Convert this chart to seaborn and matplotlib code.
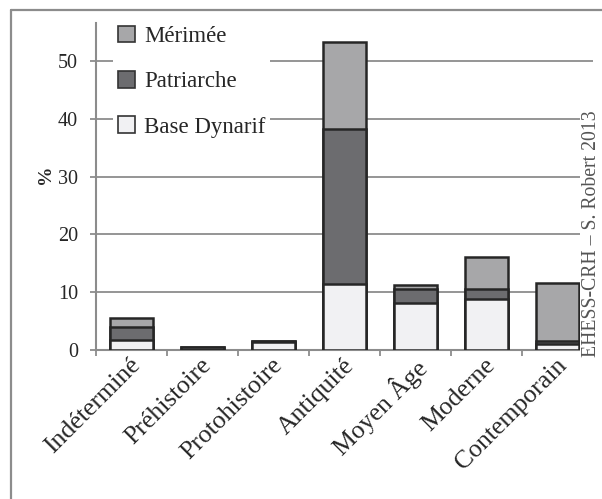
import matplotlib
matplotlib.use("Agg")
import matplotlib.pyplot as plt
from matplotlib.patches import Patch
from matplotlib.lines import Line2D
from matplotlib.transforms import ScaledTranslation
import numpy as np
import pandas as pd
import seaborn as sns

categories = ["Indéterminé", "Préhistoire", "Protohistoire", "Antiquité",
              "Moyen Âge", "Moderne", "Contemporain"]
base_dynarif = [1.8, 0.05, 1.35, 11.4, 8.2, 8.9, 1.0]
patriarche = [2.2, 0.55, 0.2, 26.8, 2.3, 1.7, 0.6]
merimee = [1.6, 0.0, 0.0, 15.0, 0.8, 5.4, 10.0]
series_names = ["Mérimée", "Patriarche", "Base Dynarif"]
yticks = [0, 10, 20, 30, 40, 50]

colors = {"Mérimée": "#a7a7a9", "Patriarche": "#6c6c6f", "Base Dynarif": "#f1f1f3"}
edge = "#262626"
gray = "#8c8c8c"

sns.set_style("white")
plt.rcParams["font.family"] = ["Liberation Serif", "DejaVu Serif"]

df = pd.DataFrame({"cat": categories, "base": base_dynarif,
                   "pat": patriarche, "mer": merimee})
df["c2"] = df["base"] + df["pat"]
df["c3"] = df["c2"] + df["mer"]

W, H = 602, 499
fig = plt.figure(figsize=(W / 100, H / 100), dpi=100)
ax = fig.add_axes([96 / W, (H - 350) / H, 497 / W, (350 - 22.7) / H])

for col, name in [("c3", "Mérimée"), ("c2", "Patriarche"), ("base", "Base Dynarif")]:
    sns.barplot(data=df, x="cat", y=col, order=categories, color=colors[name],
                saturation=1, width=0.6, edgecolor=edge, linewidth=1.8, ax=ax,
                zorder=3)

ax.set_xlim(-0.5, 6.5)
ax.set_ylim(0, 56.6)
ax.set_xlabel("")
ax.set_ylabel("")
ax.set_yticks(yticks)
ax.yaxis.grid(True, color=gray, linewidth=1.3)
ax.xaxis.grid(False)
ax.set_axisbelow(True)
for s in ["top", "right"]:
    ax.spines[s].set_visible(False)
for s in ["left", "bottom"]:
    ax.spines[s].set_color(gray)
    ax.spines[s].set_linewidth(1.5)

ax.tick_params(axis="y", length=4, width=1.3, color=gray, pad=9, labelsize=14.5,
               left=True)
ax.set_xticks(np.arange(-0.5, 7, 1), minor=True)
ax.tick_params(axis="x", which="minor", length=4, width=1.3, color=gray, bottom=True)
ax.tick_params(axis="x", which="major", length=0, pad=6, labelsize=18.5)
ax.set_xticks(range(len(categories)))
ax.set_xticklabels(categories, rotation=45, ha="right", va="top",
                   rotation_mode="anchor")
offset = ScaledTranslation(-2 / 100, 4 / 100, fig.dpi_scale_trans)
for lab in ax.get_xticklabels():
    lab.set_transform(lab.get_transform() + offset)

handles = [Patch(facecolor=colors[n], edgecolor="#333333", linewidth=1.2) for n in series_names]
leg = fig.legend(handles, series_names, loc="upper left",
                 bbox_to_anchor=(113 / W, 1 - 21 / H), borderaxespad=0,
                 borderpad=0.2, frameon=True, fontsize=16.5, handlelength=0.75,
                 handleheight=0.75, handletextpad=0.4, labelspacing=1.05)
leg.get_frame().set_facecolor("white")
leg.get_frame().set_edgecolor("white")
leg.get_frame().set_alpha(1)
leg.get_frame().set_linewidth(0)

fig.text(46 / W, 1 - 174 / H, "%", rotation=90, fontweight="bold", fontsize=14,
         ha="center", va="center")
fig.text(591 / W, 1 - 357 / H, "EHESS-CRH – S. Robert 2013", rotation=90,
         ha="center", va="bottom", color="#555555", fontsize=14.2,
         bbox=dict(facecolor="white", edgecolor="none", pad=1))

fig.add_artist(Line2D([11 / W, 1], [1 - 10 / H] * 2, color=gray, lw=1.6,
                      transform=fig.transFigure))
fig.add_artist(Line2D([11 / W] * 2, [0, 1 - 10 / H], color=gray, lw=1.6,
                      transform=fig.transFigure))

fig.savefig("out.png", dpi=100)
